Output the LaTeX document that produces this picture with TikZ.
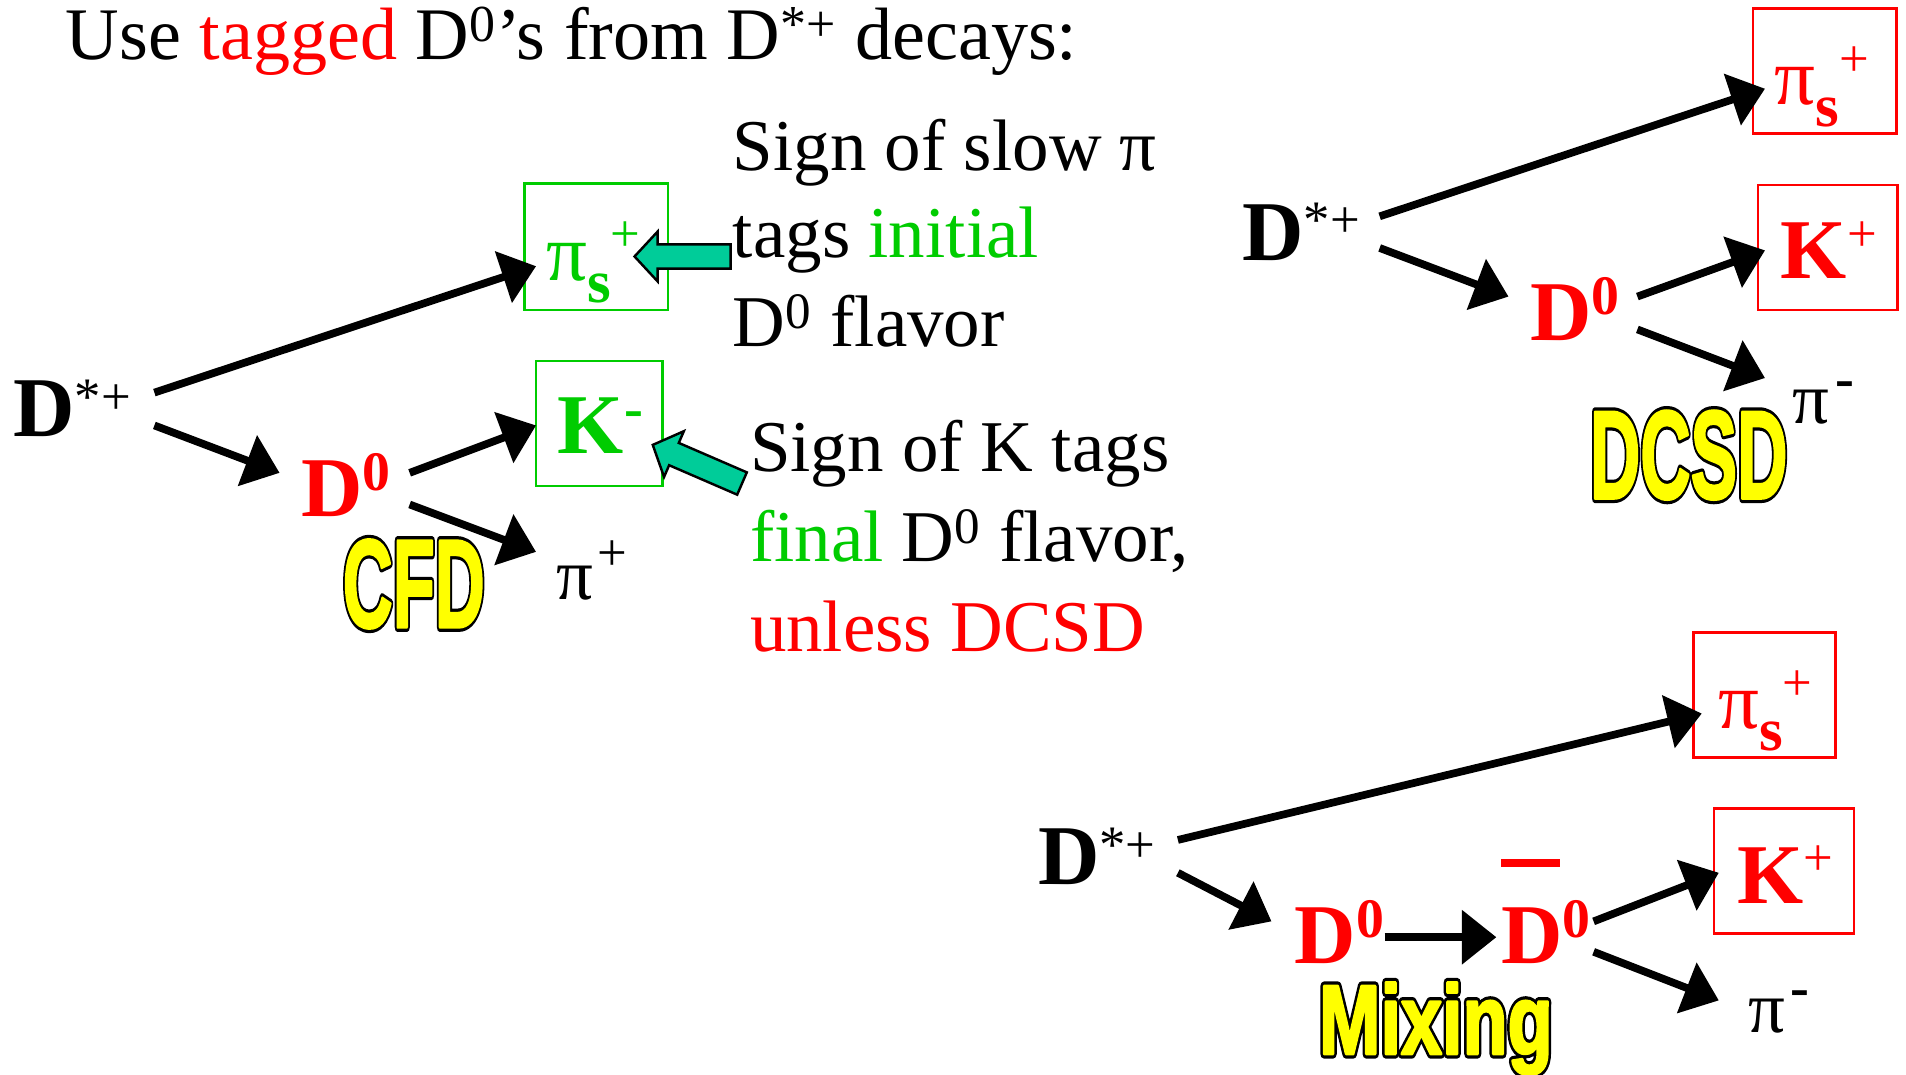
\documentclass[tikz,border=0pt]{standalone}
\usepackage{fontspec}
\usepackage{graphicx}
\setmainfont{Liberation Serif}
\newfontfamily\labfont{Liberation Sans Bold}
\usetikzlibrary{arrows.meta,calc}
\definecolor{grn}{RGB}{0,204,0}
\definecolor{rd}{RGB}{255,0,0}
\definecolor{tealarrow}{RGB}{0,204,153}
\definecolor{ylw}{RGB}{255,255,0}
\newcommand\fs[1]{\fontsize{#1}{#1}\selectfont}
\newcommand\Dst{D\raisebox{11pt}{\fs{26}\mdseries *+}}
\newcommand\Dz{D\raisebox{13pt}{\fs{27.5}0}}
\newcommand\Dzbar{\rlap{\raisebox{48pt}{\rule{28.8pt}{3.6pt}}}D\raisebox{13pt}{\fs{27.5}0}}
\newcommand\pisx{\fs{40}π\raisebox{-10.8pt}{\fs{30}\bfseries s}\raisebox{14pt}{\fs{26}+}}
\newcommand\Kminus{\fs{42}\bfseries K\raisebox{13pt}{\fs{28}-}}
\newcommand\Kplus{\fs{42}\bfseries K\raisebox{13.5pt}{\fs{26}\mdseries +}}
% yellow outlined label: black stroked layer below, yellow emboldened layer on top
\newcommand\ylabel[5]{%
  \node[ylab, text=black] (#1o) at (#2,#3) {\scalebox{#4}[1]{\special{pdf:literal direct 0 0 0 RG 4.6 w 1 j 2 Tr}#5\special{pdf:literal direct 0 Tr}}};
  \node[ylab, text=ylw] (#1) at (#2,#3) {\scalebox{#4}[1]{\special{pdf:literal direct 1 1 0 RG 1.4 w 1 j 2 Tr}#5\special{pdf:literal direct 0 Tr}}};}
\begin{document}
\begin{tikzpicture}[x=0.6pt,y=-0.6pt,
  lbl/.style={inner sep=0pt, outer sep=0pt, anchor=base west},
  txt/.style={lbl, font=\fs{36}},
  dk/.style={lbl, font=\fs{42}\bfseries},
  ylab/.style={lbl, font=\labfont},
  gbox/.style={draw=grn, line width=1.2pt, inner sep=0pt},
  rbox/.style={draw=rd, line width=1.2pt, inner sep=0pt},
  arr/.style={line width=3.8pt, -{Triangle[length=17pt,width=26pt]}},
  tarr/.style={draw=black, fill=tealarrow, line width=1.2pt, line join=miter}]
\fill[white] (0,0) rectangle (1568,884);
\path[use as bounding box] (0,0) rectangle (1568,884);

% title
\node[lbl, font=\fs{36.6}] (title) at (54,49) {Use {\color{rd}tagged} D\textsuperscript{0}’s from D\textsuperscript{*+} decays:};

% text blocks
\node[txt] (a1) at (603,140) {Sign of slow π};
\node[txt] (a2) at (603,212) {tags {\color{grn}initial}};
\node[txt] (a3) at (603,285) {D\textsuperscript{0} flavor};
\node[txt] (b1) at (617,388) {Sign of K tags};
\node[txt] (b2) at (617,462) {{\color{grn}final} D\textsuperscript{0} flavor,};
\node[txt] (b3) at (617,536) {{\color{rd}unless DCSD}};

% ---------- left diagram ----------
\node[dk] (dsL) at (11,359) {\Dst};
\node[dk, text=rd] (d0L) at (248,425) {\Dz};
\node[gbox, minimum width=118*0.6pt, minimum height=104*0.6pt] (psLb) at (490.5,203) {};
\node[lbl, text=grn] (psL) at ($(psLb.center)+(-41,27.5)$) {\pisx};
\node[gbox, minimum width=104*0.6pt, minimum height=103*0.6pt] (kLb) at (493,348.5) {};
\node[lbl, text=grn] (kL) at ($(kLb.center)+(-34,24.5)$) {\Kminus};
\node[lbl, font=\fs{36}] (piL) at (458,493) {π\hspace{2pt}\raisebox{14.2pt}{\fs{26}+}};
\ylabel{cfd}{282}{516}{0.55}{\fs{62}CFD}

\draw[arr] ($(dsL.base west)+(116,-36)$) -- ($(psLb.center)+(-49.5,16)$);
\draw[arr] ($(dsL.base west)+(116,-9)$) -- ($(d0L.base west)+(-18,-36)$);
\draw[arr] ($(d0L.base west)+(89,-36)$) -- ($(kLb.center)+(-52,1.5)$);
\draw[arr] ($(d0L.base west)+(89,-10)$) -- ($(piL.base west)+(-17,-39)$);

\coordinate (tipA) at ($(psLb.east)+(-28.5,8)$);
\draw[tarr, shift={(tipA)}] (0,0) -- (19,-20.5) -- (19,-10) -- (79,-10) -- (79,10) -- (19,10) -- (19,20.5) -- cycle;
\coordinate (tipB) at ($(kLb.east)+(-9,17.5)$);
\draw[tarr, shift={(tipB)}, rotate=-23.4] (0,0) -- (19,-20.5) -- (19,-10) -- (80,-10) -- (80,10) -- (19,10) -- (19,20.5) -- cycle;

% ---------- right top diagram ----------
\node[dk] (dsR) at (1022,214) {\Dst};
\node[dk, text=rd] (d0R) at (1259,280) {\Dz};
\node[rbox, minimum width=118*0.6pt, minimum height=103*0.6pt] (psRb) at (1501,58.5) {};
\node[lbl, text=rd] (psR) at ($(psRb.center)+(-41,27.5)$) {\pisx};
\node[rbox, minimum width=115*0.6pt, minimum height=103*0.6pt] (kRb) at (1503.5,203.5) {};
\node[lbl, text=rd] (kR) at ($(kRb.center)+(-38.5,25.5)$) {\Kplus};
\node[lbl, font=\fs{36}] (piR) at (1475,348) {π\hspace{3pt}\raisebox{12.5pt}{\fs{28}\bfseries -}};
\ylabel{dcsd}{1308}{410}{0.555}{\fs{62}DCSD}

\draw[arr] ($(dsR.base west)+(113,-36)$) -- ($(psRb.center)+(-49,14.5)$);
\draw[arr] ($(dsR.base west)+(113,-10)$) -- ($(d0R.base west)+(-18,-36)$);
\draw[arr] ($(d0R.base west)+(88,-36)$) -- ($(kRb.center)+(-51.5,2.5)$);
\draw[arr] ($(d0R.base west)+(88,-9)$) -- ($(piR.base west)+(-23,-37)$);

% ---------- bottom diagram ----------
\node[dk] (dsB) at (854,728) {\Dst};
\node[dk, text=rd] (d0B) at (1065,793) {\Dz};
\node[dk, text=rd] (d0bB) at (1235,793) {\Dzbar};
\node[rbox, minimum width=117*0.6pt, minimum height=102.5*0.6pt] (psBb) at (1451.5,571.75) {};
\node[lbl, text=rd] (psB) at ($(psBb.center)+(-38,27.5)$) {\pisx};
\node[rbox, minimum width=115*0.6pt, minimum height=103*0.6pt] (kBb) at (1467.5,716.5) {};
\node[lbl, text=rd] (kB) at ($(kBb.center)+(-38.5,26.5)$) {\Kplus};
\node[lbl, font=\fs{36}] (piB) at (1438,849) {π\hspace{3pt}\raisebox{12.5pt}{\fs{28}\bfseries -}};
\ylabel{mix}{1085}{867}{0.75}{\fs{48.6}Mixing}

\draw[arr] ($(dsB.base west)+(115,-37)$) -- ($(psBb.center)+(-51.5,15.25)$);
\draw[arr] ($(dsB.base west)+(115,-10)$) -- ($(d0B.base west)+(-19,-35)$);
\draw[arr] ($(d0B.base west)+(74,-22)$) -- ($(d0bB.base west)+(-4,-22)$);
\draw[arr] ($(d0bB.base west)+(76,-35)$) -- ($(kBb.center)+(-53.5,1.5)$);
\draw[arr] ($(d0bB.base west)+(76,-10)$) -- ($(piB.base west)+(-24,-26)$);
\end{tikzpicture}
\end{document}
